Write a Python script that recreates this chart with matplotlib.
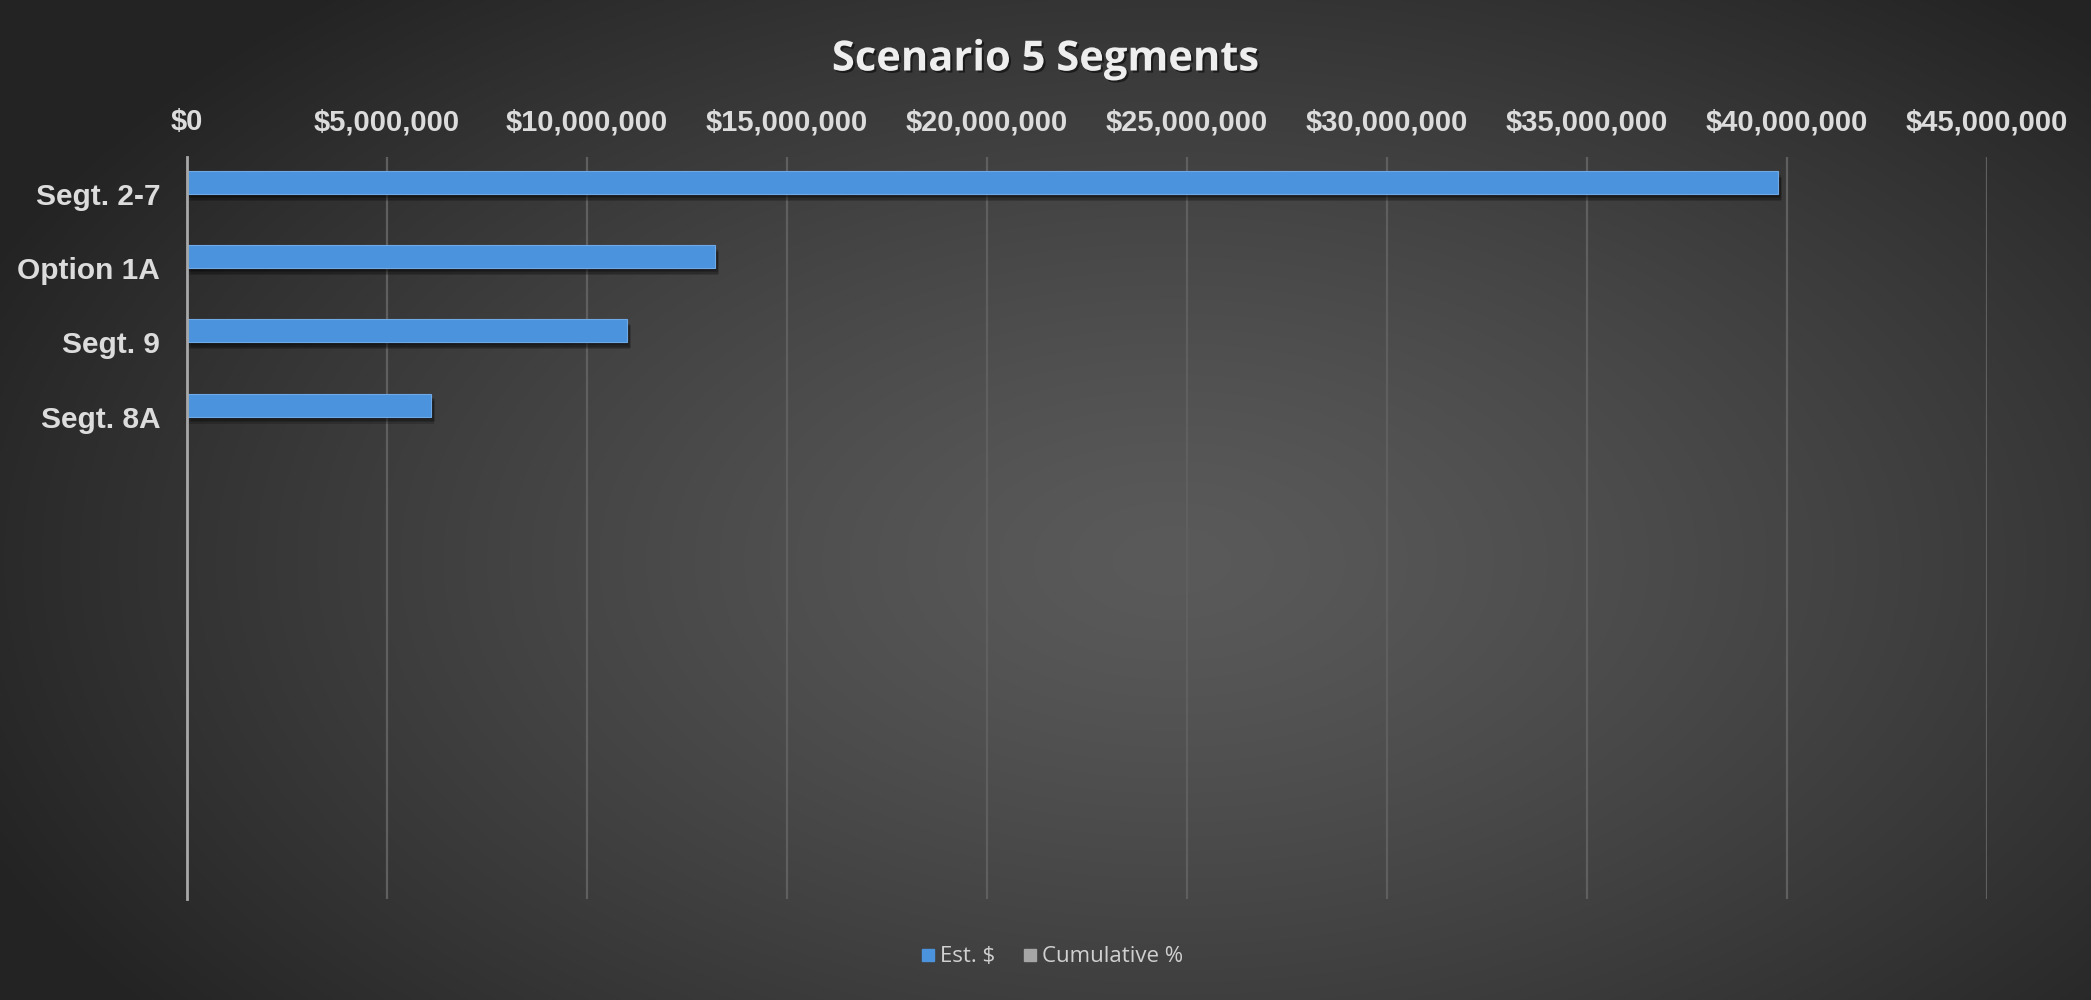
import numpy as np
import matplotlib
matplotlib.use("Agg")
import matplotlib.pyplot as plt
import matplotlib.patheffects as pe
from matplotlib.lines import Line2D
from matplotlib.ticker import FuncFormatter

# segment estimates (Excel-style clustered bar, second series is empty)
segments = ["Segt. 2-7", "Option 1A", "Segt. 9", "Segt. 8A", "", "", "", "", "", ""]
est_cost = [39_770_000, 13_200_000, 11_000_000, 6_100_000, 0, 0, 0, 0, 0, 0]
x_ticks = [0, 5e6, 10e6, 15e6, 20e6, 25e6, 30e6, 35e6, 40e6, 45e6]

label_font = ["Liberation Sans Narrow", "Liberation Sans", "DejaVu Sans"]
title_font = ["Open Sans", "Lato", "DejaVu Sans"]
txt_col = "#dcdcdc"

fig = plt.figure(figsize=(20.91, 10), dpi=100)

# radial grey background
bg = fig.add_axes([0, 0, 1, 1], zorder=-10)
h, w = 500, 1045
yy, xx = np.mgrid[0:h, 0:w]
r = np.sqrt(((xx / w - 0.56) / 0.62) ** 2 + ((yy / h - 0.56) / 0.75) ** 2)
r = np.clip(r, 0, 1) ** 1.3
c0, c1 = 0x5a / 255, 0x23 / 255
img = c0 + (c1 - c0) * r
bg.imshow(np.dstack([img, img, img]), aspect="auto", extent=[0, 1, 0, 1])
bg.axis("off")

ax = fig.add_axes([186.7 / 2091, 1 - 899 / 1000, (1987 - 186.7) / 2091, (899 - 157) / 1000])
ax.set_facecolor("none")

y = np.arange(len(segments))
bar_h = 0.31
bars = ax.barh(y - bar_h / 2, est_cost, height=bar_h, color="#4b93dd",
               edgecolor="#6fa9e6", linewidth=0.8, zorder=3)
# soft drop shadow built from a few stacked offsets
soft_shadow = [pe.SimplePatchShadow(offset=(dx, -dy), shadow_rgbFace="black", alpha=0.18)
               for dx, dy in [(1, 2), (2, 3), (3, 4), (2, 5)]]
for b in bars:
    b.set_path_effects(soft_shadow + [pe.Normal()])

ax.set_xlim(0, 45e6)
ax.set_ylim(len(segments) - 0.5, -0.5)
ax.set_xticks(x_ticks)
ax.xaxis.set_major_formatter(FuncFormatter(lambda v, p: "${:,.0f}".format(v)))
ax.xaxis.tick_top()
ax.set_yticks(y)
ax.set_yticklabels(segments)
ax.tick_params(axis="x", length=0, pad=15, labelsize=21, labelcolor=txt_col)
ax.tick_params(axis="y", length=0, pad=19, labelsize=21.5, labelcolor=txt_col)
for lab in ax.get_xticklabels() + ax.get_yticklabels():
    lab.set_family(label_font)
    lab.set_fontweight("bold")

ax.grid(axis="x", color="#5f5f5f", linewidth=1.6, zorder=0)
ax.set_axisbelow(True)
for s in ["top", "right", "bottom"]:
    ax.spines[s].set_visible(False)
ax.spines["left"].set_color("#a8a8a8")
ax.spines["left"].set_linewidth(2)
ax.spines["left"].set_zorder(4)

fig.text(0.5, 0.94, "Scenario 5 Segments", ha="center", va="center", fontsize=30,
         fontweight="bold", color="#eeeeee", family=title_font,
         path_effects=[pe.withSimplePatchShadow(offset=(1.5, -1.5), shadow_rgbFace="black", alpha=0.5)])

handles = [Line2D([], [], marker="s", linestyle="none", markersize=9, color="#4b93dd"),
           Line2D([], [], marker="s", linestyle="none", markersize=9, color="#a6a6a6")]
leg = fig.legend(handles, ["Est. $", "Cumulative %"], loc="center", bbox_to_anchor=(0.503, 0.043),
                 ncol=2, frameon=False, handletextpad=0.2, columnspacing=1.2, handlelength=0.7,
                 prop={"family": title_font, "size": 16})
for t in leg.get_texts():
    t.set_color("#d0d0d0")

fig.savefig("out.png", dpi=100)
